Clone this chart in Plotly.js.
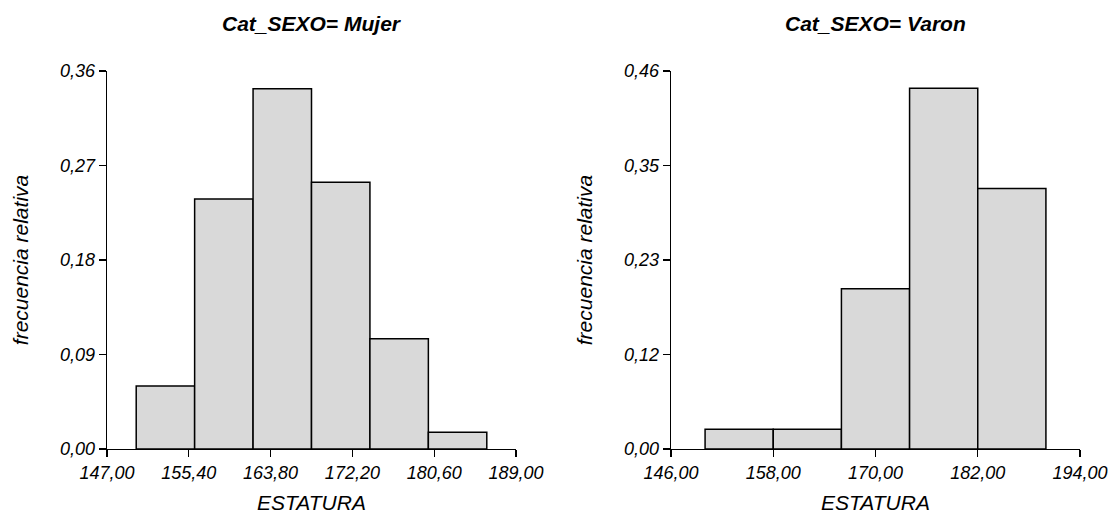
<!DOCTYPE html>
<html>
<head>
<meta charset="utf-8">
<script src="https://cdn.plot.ly/plotly-3.0.1.min.js"></script>
<style>html,body{margin:0;padding:0;background:#fff;}#chart{width:1117px;height:514px;}</style>
</head>
<body>
<div id="chart"></div>
<script>
// Mujer histogram: bin lower edges, bin width, relative frequencies
const mujerBinStart = [150, 156, 162, 168, 174, 180];
const mujerBinWidth = 6;
const mujerFreq = [0.060, 0.238, 0.343, 0.254, 0.105, 0.016];
const mujerXTicks = [147, 155.4, 163.8, 172.2, 180.6, 189];
const mujerXTickText = ["147,00", "155,40", "163,80", "172,20", "180,60", "189,00"];
const mujerYTicks = [0, 0.09, 0.18, 0.27, 0.36];
const mujerYTickText = ["0,00", "0,09", "0,18", "0,27", "0,36"];

// Varon histogram
const varonBinStart = [150, 158, 166, 174, 182];
const varonBinWidth = 8;
const varonFreq = [0.024, 0.024, 0.195, 0.439, 0.317];
const varonXTicks = [146, 158, 170, 182, 194];
const varonXTickText = ["146,00", "158,00", "170,00", "182,00", "194,00"];
const varonYTicks = [0, 0.115, 0.23, 0.345, 0.46];
const varonYTickText = ["0,00", "0,12", "0,23", "0,35", "0,46"];

const titles = ["Cat_SEXO= Mujer", "Cat_SEXO= Varon"];
const xTitle = "ESTATURA";
const yTitle = "frecuencia relativa";

const FONT = "Liberation Sans, Arial, sans-serif";
const barStyle = {color: "#d9d9d9", line: {color: "#000", width: 1.5}};

const traces = [
  {type: "bar", x: mujerBinStart.map(s => s + mujerBinWidth / 2), y: mujerFreq,
   width: mujerBinStart.map(() => mujerBinWidth), marker: barStyle, xaxis: "x", yaxis: "y", hoverinfo: "x+y"},
  {type: "bar", x: varonBinStart.map(s => s + varonBinWidth / 2), y: varonFreq,
   width: varonBinStart.map(() => varonBinWidth), marker: barStyle, xaxis: "x2", yaxis: "y2", hoverinfo: "x+y"}
];

function xAxis(domain, range, tv, tt, anchor) {
  return {domain: domain, range: range, anchor: anchor, tickvals: tv, ticktext: tt,
    showline: true, linecolor: "#000", linewidth: 1.3, ticks: "outside", ticklen: 7, tickwidth: 1.3, tickcolor: "#000",
    showgrid: false, zeroline: false, tickfont: {family: FONT, size: 18, color: "#000", style: "italic"},
    title: {text: xTitle, font: {family: FONT, size: 21, color: "#000", style: "italic"}, standoff: 14}};
}
function yAxis(domain, range, tv, tt, anchor) {
  return {domain: domain, range: range, anchor: anchor, tickvals: tv, ticktext: tt,
    showline: true, linecolor: "#000", linewidth: 1.3, ticks: "outside", ticklen: 7, tickwidth: 1.3, tickcolor: "#000",
    showgrid: false, zeroline: false, tickfont: {family: FONT, size: 18, color: "#000", style: "italic"},
    title: {text: yTitle, font: {family: FONT, size: 21, color: "#000", style: "italic"}, standoff: 25}};
}

const W = 1117, H = 514;
const ml = 107, mr = W - 1080, mt = 71, mb = H - 449;
const pw = W - ml - mr;
const d1 = [0, (516 - ml) / pw];
const d2 = [(671 - ml) / pw, 1];

const layout = {
  width: W, height: H,
  margin: {l: ml, r: mr, t: mt, b: mb},
  paper_bgcolor: "#fff", plot_bgcolor: "#fff",
  showlegend: false, bargap: 0,
  xaxis: xAxis(d1, [147, 189], mujerXTicks, mujerXTickText, "y"),
  yaxis: yAxis([0, 1], [0, 0.36], mujerYTicks, mujerYTickText, "x"),
  xaxis2: xAxis(d2, [146, 194], varonXTicks, varonXTickText, "y2"),
  yaxis2: yAxis([0, 1], [0, 0.46], varonYTicks, varonYTickText, "x2"),
  annotations: [
    {text: titles[0], xref: "x domain", yref: "paper", x: 0.5, y: 1, yshift: 48, showarrow: false,
     xanchor: "center", yanchor: "middle", font: {family: FONT, size: 21, color: "#000", weight: "bold", style: "italic"}},
    {text: titles[1], xref: "x2 domain", yref: "paper", x: 0.5, y: 1, yshift: 48, showarrow: false,
     xanchor: "center", yanchor: "middle", font: {family: FONT, size: 21, color: "#000", weight: "bold", style: "italic"}}
  ]
};

Plotly.newPlot("chart", traces, layout, {displayModeBar: false, staticPlot: true});
</script>
</body>
</html>
